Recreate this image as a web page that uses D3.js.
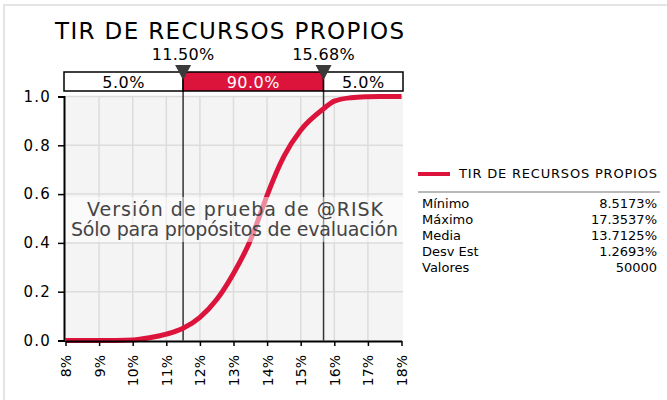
<!DOCTYPE html>
<html lang="es">
<head>
<meta charset="UTF-8">
<title>TIR de recursos propios</title>
<script src="https://d3js.org/d3.v7.min.js"></script>
<style>
  body { margin: 0; background: #fff; font-family: "DejaVu Sans", Verdana, sans-serif; }
  svg text { font-family: "DejaVu Sans", Verdana, sans-serif; }
</style>
</head>
<body>
<div id="chart"></div>
<script>
// cumulative curve (percent, probability)
const tirValues  = [8.0, 8.52, 9.5, 10.0, 10.5, 11.0, 11.5, 12.0, 12.5, 13.0, 13.5, 13.75, 14.0, 14.5, 15.0, 15.68, 16.0, 16.5, 17.0, 17.35, 18.0];
const cumProb    = [0, 0, 0.0005, 0.002, 0.011, 0.026, 0.05, 0.095, 0.168, 0.275, 0.41, 0.50, 0.595, 0.755, 0.862, 0.95, 0.981, 0.995, 0.999, 1.0, 1.0];
const xTicks     = [8, 9, 10, 11, 12, 13, 14, 15, 16, 17, 18];
const yTicks     = [0, 0.2, 0.4, 0.6, 0.8, 1.0];
const markers    = [11.50, 15.68];
const bandLabels = ["5.0%", "90.0%", "5.0%"];
const statNames  = ["Mínimo", "Máximo", "Media", "Desv Est", "Valores"];
const statValues = ["8.5173%", "17.3537%", "13.7125%", "1.2693%", "50000"];

const title = "TIR DE RECURSOS PROPIOS";
const red = "#dc143c";
const width = 667, height = 400;

const svg = d3.select("#chart").append("svg")
    .attr("width", width)
    .attr("height", height);

// outer frame (only top/left visible)
svg.append("rect")
    .attr("x", 4).attr("y", 5)
    .attr("width", 800).attr("height", 600)
    .attr("fill", "none")
    .attr("stroke", "#e4e4e4")
    .attr("stroke-width", 2);

const x = d3.scaleLinear().domain([8, 18]).range([65.5, 401.5]);
const y = d3.scaleLinear().domain([0, 1]).range([340.5, 96.5]);

// plot background
svg.append("rect")
    .attr("x", 64).attr("y", 96)
    .attr("width", 339).attr("height", 245)
    .attr("fill", "#f4f4f4");

// grid
svg.append("g").selectAll("line")
    .data(xTicks.slice(1, -1))
    .join("line")
    .attr("x1", d => x(d)).attr("x2", d => x(d))
    .attr("y1", y(1)).attr("y2", y(0))
    .attr("stroke", "#dcdcdc").attr("stroke-width", 1.5);

svg.append("g").selectAll("line")
    .data(yTicks.slice(1))
    .join("line")
    .attr("x1", 64).attr("x2", 403)
    .attr("y1", d => y(d)).attr("y2", d => y(d))
    .attr("stroke", "#dcdcdc").attr("stroke-width", 1.5);

// marker lines
svg.append("g").selectAll("line")
    .data(markers)
    .join("line")
    .attr("x1", d => x(d)).attr("x2", d => x(d))
    .attr("y1", 91).attr("y2", y(0))
    .attr("stroke", "#333").attr("stroke-width", 1.5);

// curve
const pts = tirValues.map((v, i) => [v, cumProb[i]]);
const line = d3.line()
    .x(d => x(d[0]))
    .y(d => y(d[1]))
    .curve(d3.curveMonotoneX);

svg.append("path")
    .datum(pts)
    .attr("d", line)
    .attr("fill", "none")
    .attr("stroke", red)
    .attr("stroke-width", 5)
    .attr("stroke-linejoin", "round");

// watermark box over the curve
svg.append("rect")
    .attr("x", 62).attr("y", 197)
    .attr("width", 342).attr("height", 45)
    .attr("fill", "#fff")
    .attr("fill-opacity", 0.5);

svg.append("text")
    .attr("x", 87).attr("y", 216)
    .attr("font-size", 19)
    .attr("fill", "#444")
    .attr("textLength", 296)
    .attr("lengthAdjust", "spacing")
    .text("Versión de prueba de @RISK");

svg.append("text")
    .attr("x", 71).attr("y", 236)
    .attr("font-size", 19)
    .attr("fill", "#444")
    .attr("textLength", 327)
    .attr("lengthAdjust", "spacing")
    .text("Sólo para propósitos de evaluación");

// axes
const yAxis = svg.append("g")
    .attr("transform", "translate(64,0)")
    .call(d3.axisLeft(y).tickValues(yTicks).tickFormat(d3.format(".1f")).tickSize(6).tickPadding(7));
yAxis.select(".domain").attr("stroke", "#000").attr("stroke-width", 2);
yAxis.selectAll(".tick line").attr("stroke", "#000").attr("stroke-width", 1.5);
yAxis.selectAll(".tick text").attr("font-size", 15).attr("fill", "#000")
    .attr("letter-spacing", 1.2)
    .style("font-family", "DejaVu Sans, Verdana, sans-serif");

const xAxis = svg.append("g")
    .attr("transform", "translate(0,341)")
    .call(d3.axisBottom(x).tickValues(xTicks).tickFormat(d => d + "%").tickSize(5).tickSizeOuter(0));
xAxis.select(".domain").attr("stroke", "#000").attr("stroke-width", 2);
xAxis.selectAll(".tick line").attr("stroke", "#000").attr("stroke-width", 1.5);
xAxis.selectAll(".tick text")
    .attr("font-size", 14).attr("fill", "#000")
    .style("font-family", "DejaVu Sans, Verdana, sans-serif")
    .attr("transform", "rotate(-90)")
    .attr("text-anchor", "end")
    .attr("x", -14).attr("y", 0).attr("dy", "0.35em");

// title
svg.append("text")
    .attr("x", 55).attr("y", 39)
    .attr("font-size", 23)
    .attr("fill", "#000")
    .attr("textLength", 349)
    .attr("lengthAdjust", "spacing")
    .text(title);

// probability band
const bandEdges = [64, x(markers[0]), x(markers[1]), 403];
const band = svg.append("g");
band.selectAll("rect")
    .data(bandLabels)
    .join("rect")
    .attr("x", (d, i) => bandEdges[i])
    .attr("y", 72)
    .attr("width", (d, i) => bandEdges[i + 1] - bandEdges[i])
    .attr("height", 19)
    .attr("fill", (d, i) => i === 1 ? red : "#fff")
    .attr("stroke", "#000")
    .attr("stroke-width", 1.5);
band.selectAll("text")
    .data(bandLabels)
    .join("text")
    .attr("x", (d, i) => (bandEdges[i] + bandEdges[i + 1]) / 2)
    .attr("y", 88)
    .attr("text-anchor", "middle")
    .attr("font-size", 16)
    .attr("letter-spacing", 0.5)
    .attr("fill", (d, i) => i === 1 ? "#fff" : "#000")
    .text(d => d);

// marker triangles and labels
const mk = svg.append("g");
mk.selectAll("path")
    .data(markers)
    .join("path")
    .attr("d", d => `M${x(d) - 8},65 L${x(d) + 8},65 L${x(d)},80 Z`)
    .attr("fill", "#3a3a3a");
mk.selectAll("text")
    .data(markers)
    .join("text")
    .attr("x", d => x(d))
    .attr("y", 60)
    .attr("text-anchor", "middle")
    .attr("font-size", 16)
    .attr("letter-spacing", 0.3)
    .attr("fill", "#000")
    .text(d => d.toFixed(2) + "%");

// legend
const lg = svg.append("g");
lg.append("line")
    .attr("x1", 418).attr("x2", 450)
    .attr("y1", 174).attr("y2", 174)
    .attr("stroke", red).attr("stroke-width", 4);
lg.append("text")
    .attr("x", 459).attr("y", 178)
    .attr("font-size", 13)
    .attr("fill", "#000")
    .attr("textLength", 198)
    .attr("lengthAdjust", "spacing")
    .text(title);
lg.append("line")
    .attr("x1", 418).attr("x2", 660)
    .attr("y1", 192).attr("y2", 192)
    .attr("stroke", "#a0a0a0").attr("stroke-width", 1.5);
lg.selectAll("text.name")
    .data(statNames)
    .join("text")
    .attr("class", "name")
    .attr("x", 422)
    .attr("y", (d, i) => 208 + i * 16)
    .attr("font-size", 13)
    .attr("fill", "#000")
    .text(d => d);
lg.selectAll("text.val")
    .data(statValues)
    .join("text")
    .attr("class", "val")
    .attr("x", 657)
    .attr("y", (d, i) => 208 + i * 16)
    .attr("text-anchor", "end")
    .attr("font-size", 13)
    .attr("fill", "#000")
    .text(d => d);
</script>
</body>
</html>
